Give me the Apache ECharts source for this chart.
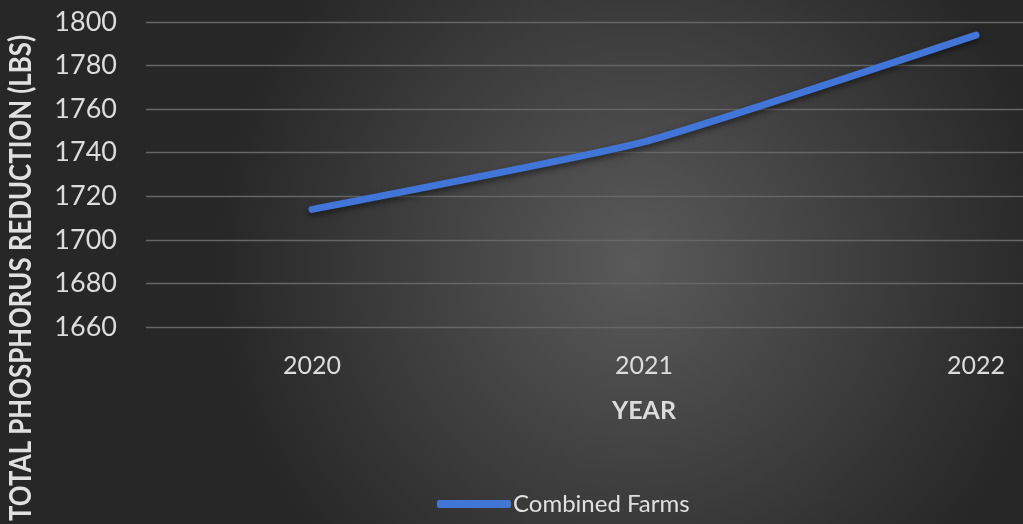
<!DOCTYPE html>
<html><head><meta charset="utf-8">
<script src="https://cdn.jsdelivr.net/npm/echarts@6/dist/echarts.min.js"></script>
<style>html,body{margin:0;padding:0;background:#333;}#c{width:1023px;height:524px;}</style>
</head><body><div id="c"></div>
<script>
const categories = ['2020', '2021', '2022'];
const combinedFarms = [1714, 1745, 1794];
const seriesName = 'Combined Farms';
const yTitle = 'TOTAL PHOSPHORUS REDUCTION (LBS)';
const xTitle = 'YEAR';

const chart = echarts.init(document.getElementById('c'));
const FONT = 'Lato';
chart.setOption({
  backgroundColor: {
    type: 'radial', x: 0.62, y: 0.5, r: 0.8,
    colorStops: [{offset: 0, color: '#5a5a5a'}, {offset: 1, color: '#272727'}]
  },
  animation: false,
  grid: {left: 146, top: 22, width: 996, height: 305, containLabel: false, outerBoundsMode: 'none'},
  legend: {
    data: [seriesName], left: 432, top: 487,
    icon: 'roundRect', itemWidth: 74, itemHeight: 8, itemGap: 4,
    textStyle: {color: '#e0e0e0', fontSize: 24, fontFamily: FONT, padding: [0,0,0,-3]}
  },
  xAxis: {
    type: 'category', data: categories, boundaryGap: true,
    axisLine: {show: false}, axisTick: {show: false},
    axisLabel: {color: '#dcdcdc', fontSize: 25, fontFamily: FONT, margin: 26}
  },
  yAxis: {
    type: 'value', min: 1660, max: 1800, interval: 20,
    axisLine: {show: false}, axisTick: {show: false},
    axisLabel: {color: '#dcdcdc', fontSize: 27, fontFamily: FONT, margin: 29, formatter: v => String(v)},
    splitLine: {lineStyle: {color: '#666666', width: 1.3}}
  },
  graphic: [
    {type: 'text', left: 612, top: 398, style: {text: xTitle, fill: '#dcdcdc', font: 'bold 25px Lato'}},
    {type: 'text', rotation: Math.PI/2, x: 6, y: 521, scaleX: 0.86, scaleY: 1, originX: 0, originY: 0,
     style: {text: yTitle, fill: '#e0e0e0', font: 'bold 30px Lato', textAlign: 'left', textVerticalAlign: 'top'}}
  ],
  series: [{
    name: seriesName, type: 'line', data: combinedFarms, smooth: 0.15,
    symbol: 'none',
    lineStyle: {color: '#4175d8', width: 7, cap: 'round', shadowColor: 'rgba(0,0,0,0.5)', shadowBlur: 6, shadowOffsetY: 3},
    itemStyle: {color: '#4175d8'}
  }]
});
</script></body></html>
